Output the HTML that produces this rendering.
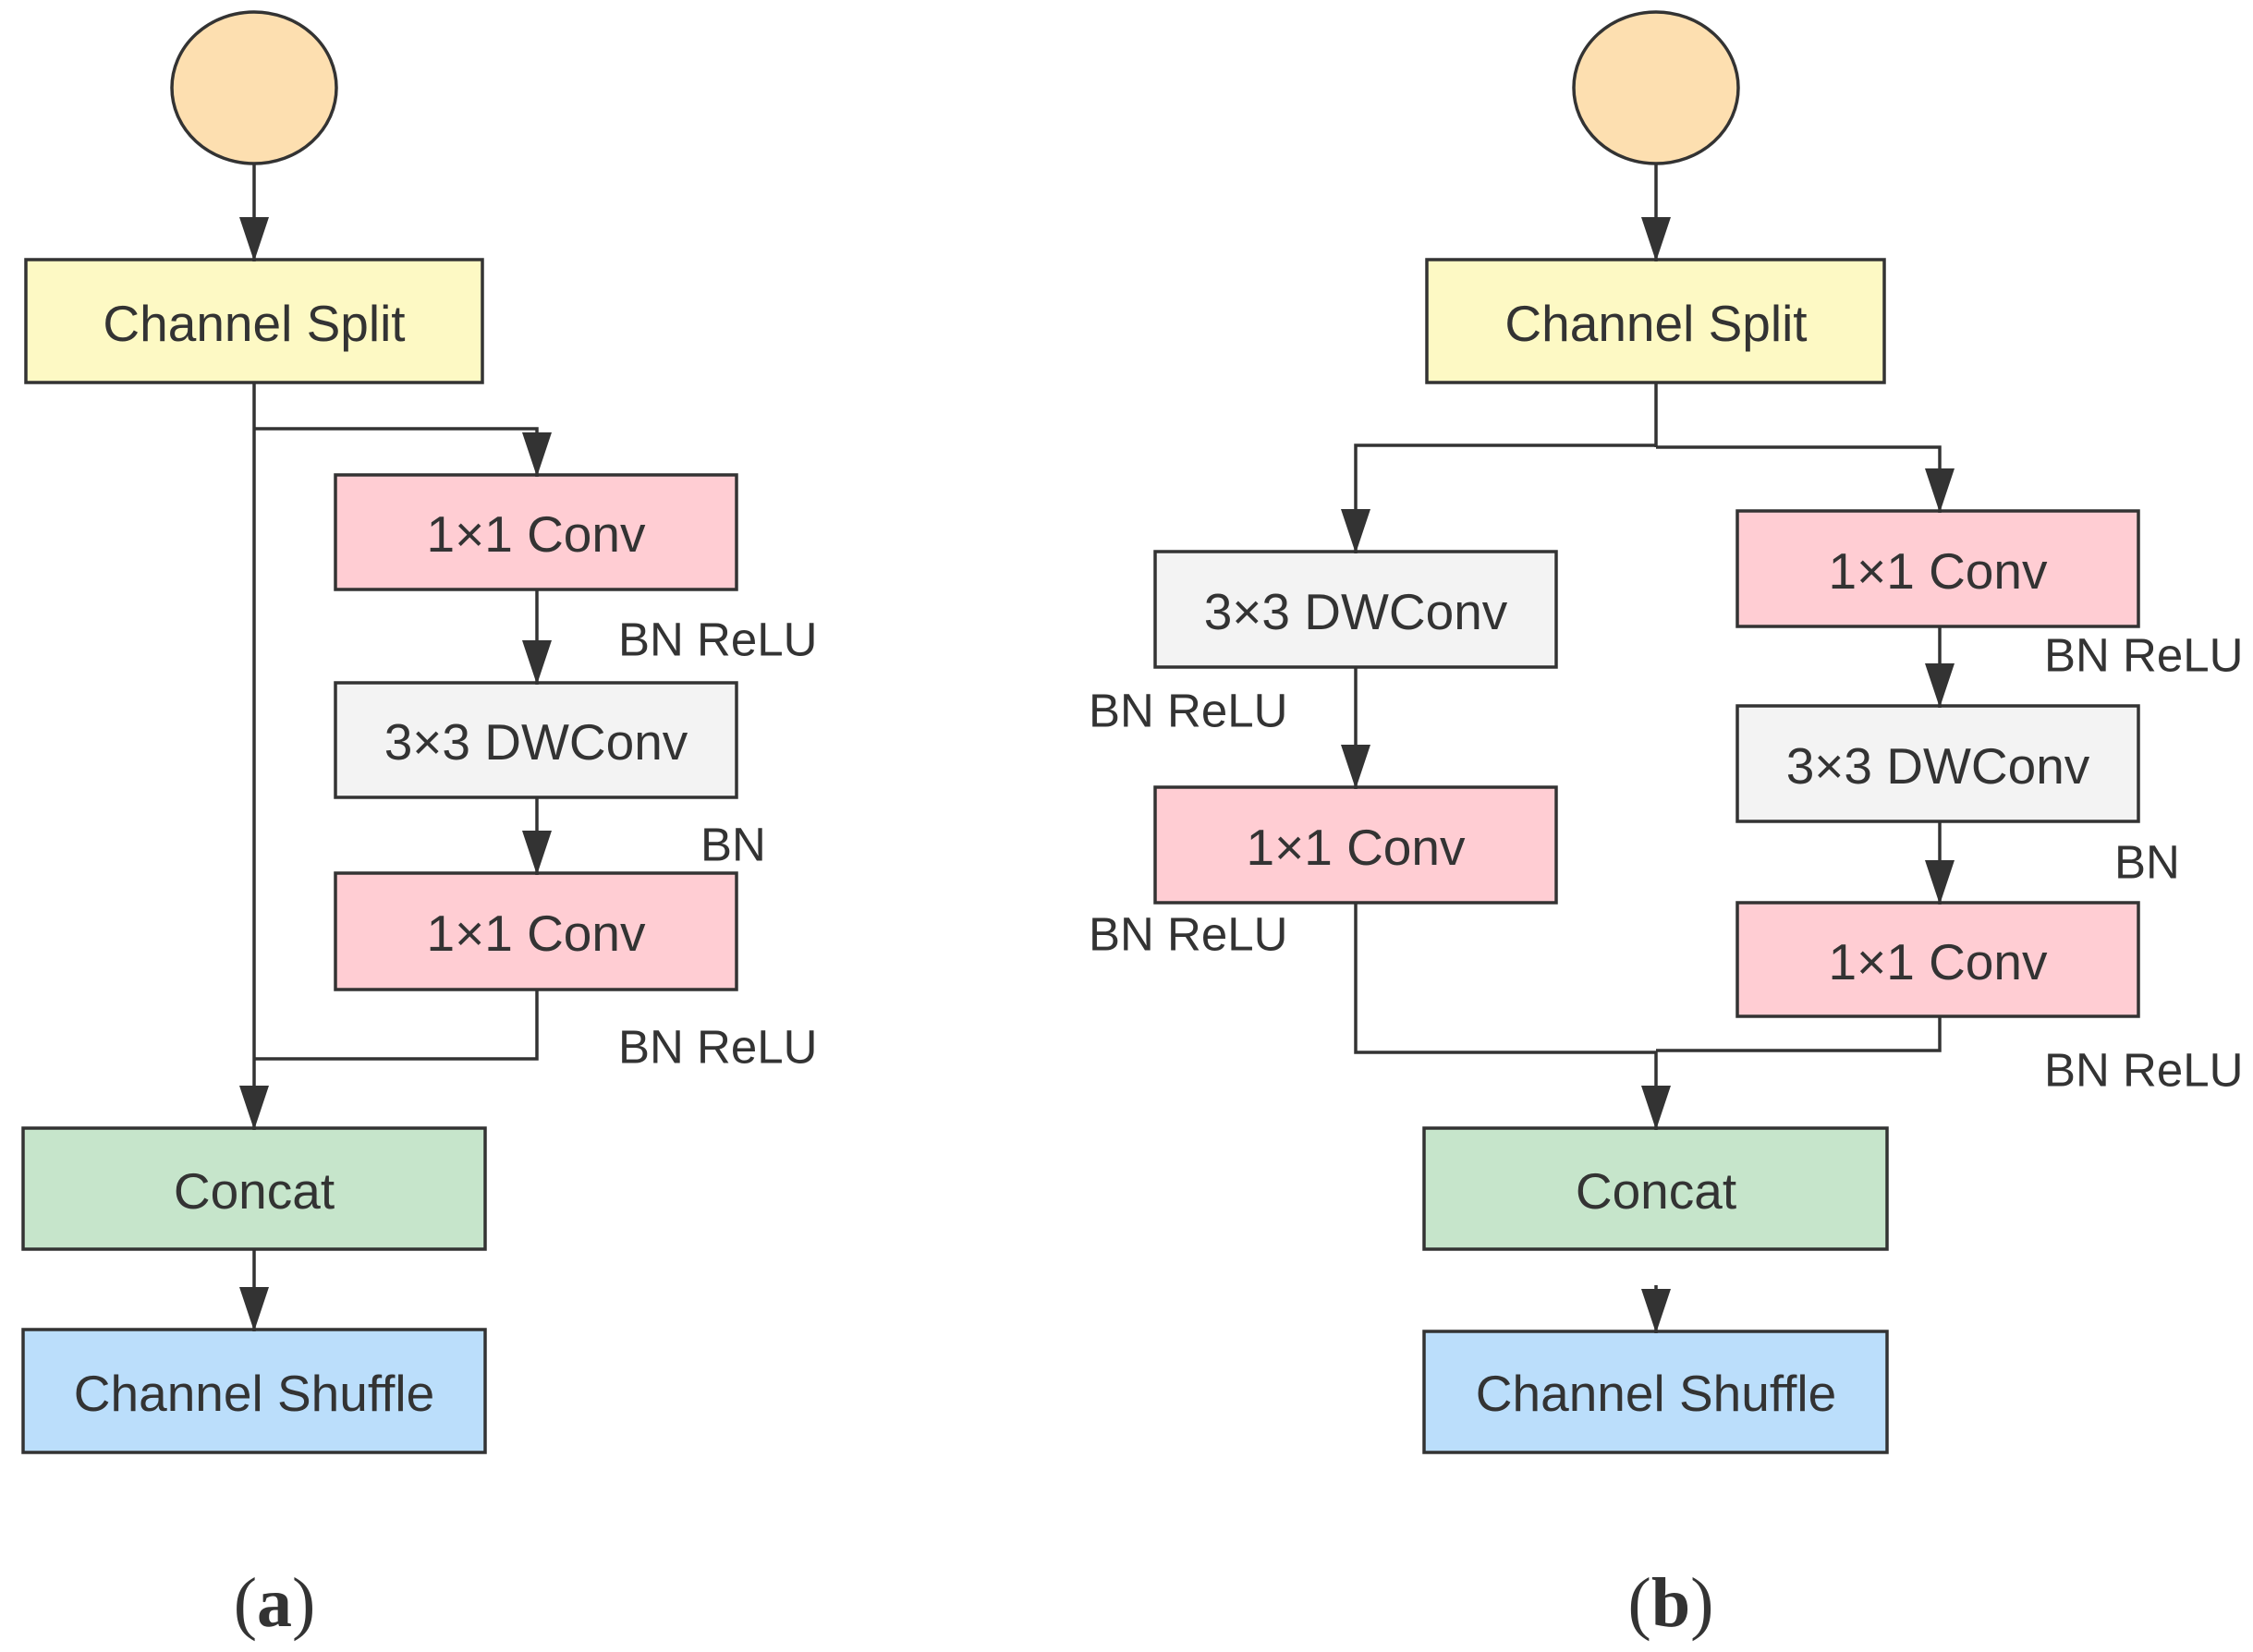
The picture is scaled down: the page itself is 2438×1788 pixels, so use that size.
<!DOCTYPE html>
<html><head><meta charset="utf-8"><style>
html,body{margin:0;padding:0;background:#fff}
svg{display:block}
text{font-family:"Liberation Sans","DejaVu Sans",sans-serif;fill:#333}
</style></head><body>
<svg width="2438" height="1788" viewBox="0 0 2438 1788" xmlns="http://www.w3.org/2000/svg">
<defs>
<marker id="ar" markerWidth="48" markerHeight="32" refX="48" refY="16" orient="auto" markerUnits="userSpaceOnUse" viewBox="0 0 48 32">
<path d="M0,0 L48,16 L0,32 Z" fill="#333"/>
</marker>
</defs>
<g stroke="#333" stroke-width="3.5" fill="none">
<ellipse cx="275" cy="95" rx="89" ry="82" fill="#fddfb0"/>
<rect x="28" y="281" width="494" height="133" fill="#fdf9c4"/>
<rect x="363" y="514" width="434" height="124" fill="#ffcdd3"/>
<rect x="363" y="739" width="434" height="124" fill="#f3f3f3"/>
<rect x="363" y="945" width="434" height="126" fill="#ffcdd3"/>
<rect x="25" y="1221" width="500" height="131" fill="#c6e5cb"/>
<rect x="25" y="1439" width="500" height="133" fill="#bbdefb"/>
<g transform="translate(-8,0)">
<ellipse cx="1800" cy="95" rx="89" ry="82" fill="#fddfb0"/>
<rect x="1552" y="281" width="495" height="133" fill="#fdf9c4"/>
<rect x="1258" y="597" width="434" height="125" fill="#f3f3f3"/>
<rect x="1258" y="852" width="434" height="125" fill="#ffcdd3"/>
<rect x="1888" y="553" width="434" height="125" fill="#ffcdd3"/>
<rect x="1888" y="764" width="434" height="125" fill="#f3f3f3"/>
<rect x="1888" y="977" width="434" height="123" fill="#ffcdd3"/>
<rect x="1549" y="1221" width="501" height="131" fill="#c6e5cb"/>
<rect x="1549" y="1441" width="501" height="131" fill="#bbdefb"/>
</g>
</g>
<g stroke="#333" stroke-width="3.5" fill="none">
<line x1="275" y1="177" x2="275" y2="283" marker-end="url(#ar)"/>
<line x1="275" y1="414" x2="275" y2="1223" marker-end="url(#ar)"/>
<polyline points="275,464 581,464 581,516" marker-end="url(#ar)"/>
<line x1="581" y1="638" x2="581" y2="741" marker-end="url(#ar)"/>
<line x1="581" y1="863" x2="581" y2="947" marker-end="url(#ar)"/>
<polyline points="581,1071 581,1146 275,1146"/>
<line x1="275" y1="1352" x2="275" y2="1441" marker-end="url(#ar)"/>
<g transform="translate(-8,0)">
<line x1="1800" y1="177" x2="1800" y2="283" marker-end="url(#ar)"/>
<line x1="1800" y1="414" x2="1800" y2="484"/>
<polyline points="1800,482 1475,482 1475,599" marker-end="url(#ar)"/>
<polyline points="1800,484 2107,484 2107,555" marker-end="url(#ar)"/>
<line x1="1475" y1="722" x2="1475" y2="854" marker-end="url(#ar)"/>
<line x1="2107" y1="678" x2="2107" y2="766" marker-end="url(#ar)"/>
<line x1="2107" y1="889" x2="2107" y2="979" marker-end="url(#ar)"/>
<polyline points="1475,977 1475,1139 1800,1139"/>
<polyline points="2107,1100 2107,1137 1800,1137"/>
<line x1="1800" y1="1138" x2="1800" y2="1223" marker-end="url(#ar)"/>
<line x1="1800" y1="1391" x2="1800" y2="1443" marker-end="url(#ar)"/>
</g>
</g>
<g font-size="55" text-anchor="middle" dominant-baseline="central">
<text x="275" y="350">Channel Split</text>
<text x="580" y="578">1×1 Conv</text>
<text x="580" y="803">3×3 DWConv</text>
<text x="580" y="1010">1×1 Conv</text>
<text x="275" y="1289">Concat</text>
<text x="275" y="1508">Channel Shuffle</text>
<g transform="translate(-8,0)">
<text x="1800" y="350">Channel Split</text>
<text x="1475" y="662">3×3 DWConv</text>
<text x="1475" y="917">1×1 Conv</text>
<text x="2105" y="618">1×1 Conv</text>
<text x="2105" y="829">3×3 DWConv</text>
<text x="2105" y="1041">1×1 Conv</text>
<text x="1800" y="1289">Concat</text>
<text x="1800" y="1508">Channel Shuffle</text>
</g>
</g>
<g font-size="51" dominant-baseline="central">
<text x="669" y="692">BN ReLU</text>
<text x="758" y="914">BN</text>
<text x="669" y="1133">BN ReLU</text>
<text x="1178" y="769">BN ReLU</text>
<text x="1178" y="1011">BN ReLU</text>
<text x="2212" y="709">BN ReLU</text>
<text x="2288" y="933">BN</text>
<text x="2212" y="1158">BN ReLU</text>
</g>
<g font-size="76" text-anchor="middle" dominant-baseline="central">
<text x="297" y="1735" style="font-family:'Liberation Serif',serif">(<tspan font-weight="bold">a</tspan>)</text>
<text x="1808" y="1735" style="font-family:'Liberation Serif',serif">(<tspan font-weight="bold">b</tspan>)</text>
</g>
</svg>
</body></html>
